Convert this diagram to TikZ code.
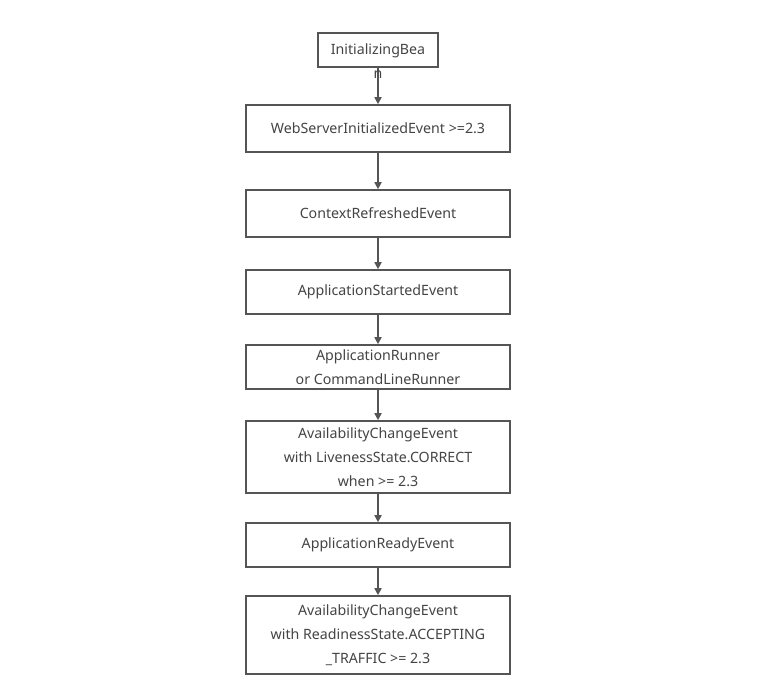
\documentclass[tikz,border=0pt]{standalone}
\usepackage{fontspec}
\setmainfont{Noto Sans}
\usetikzlibrary{arrows.meta}
\definecolor{ln}{HTML}{555555}
\definecolor{tx}{HTML}{444444}
\tikzset{
  x=1pt,y=-1pt,
  box/.style={draw=ln, line width=1.6pt, fill=white, minimum width=264pt, inner sep=0pt, text=tx, font=\fontsize{14.2}{24}\selectfont, align=center},
  txt/.style={text=tx, font=\fontsize{14.2}{24}\selectfont, align=center, inner sep=0pt},
  arr/.style={draw=ln, line width=1.6pt, -{Triangle[length=7pt,width=7pt]}},
}
\begin{document}
\begin{tikzpicture}
\fill[white] (0,0) rectangle (759,697);
\useasboundingbox (0,0) rectangle (759,697);
\node[box, minimum width=120pt, minimum height=34pt] (init) at (378,50) {};
\node[box, minimum height=47pt] (web) at (378,128.5) {\raisebox{-1pt}{WebServerInitializedEvent >=2.3}};
\node[box, minimum height=47pt] (ctx) at (378,213.5) {\raisebox{-1pt}{ContextRefreshedEvent}};
\node[box, minimum height=44pt] (start) at (378,292) {\raisebox{-1pt}{ApplicationStartedEvent}};
\node[box, minimum height=44pt] (runner) at (378,367) {ApplicationRunner\\or CommandLineRunner};
\node[box, minimum height=72pt] (live) at (378,457) {AvailabilityChangeEvent\\with LivenessState.CORRECT\\when >= 2.3};
\node[box, minimum height=44pt] (ready) at (378,545) {\raisebox{-1pt}{ApplicationReadyEvent}};
\node[box, minimum height=78pt] (readi) at (378,635) {AvailabilityChangeEvent\\with ReadinessState.ACCEPTING\\\_TRAFFIC >= 2.3};
\draw[arr] (init.south) -- (web.north);
\node[txt] (initt) at (378,61) {InitializingBea\\n};
\draw[arr] (web.south) -- (ctx.north);
\draw[arr] (ctx.south) -- (start.north);
\draw[arr] (start.south) -- (runner.north);
\draw[arr] (runner.south) -- (live.north);
\draw[arr] (live.south) -- (ready.north);
\draw[arr] (ready.south) -- (readi.north);
\end{tikzpicture}
\end{document}
